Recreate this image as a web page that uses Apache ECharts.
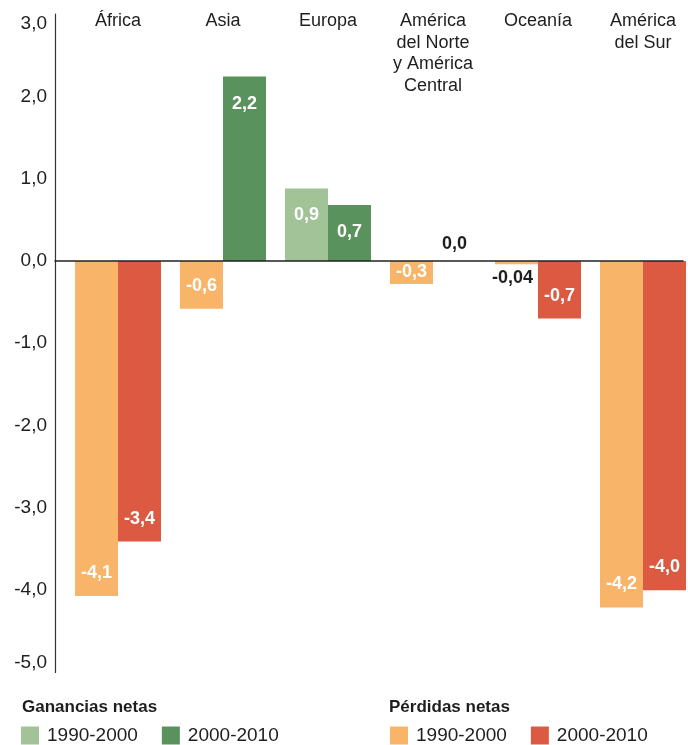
<!DOCTYPE html>
<html>
<head>
<meta charset="utf-8">
<script src="https://cdn.jsdelivr.net/npm/echarts@6/dist/echarts.min.js"></script>
<style>
  html, body { margin: 0; padding: 0; background: #fff; }
  #chart { width: 688px; height: 745px; }
</style>
</head>
<body>
<div id="chart"></div>
<script>
// ---- data ----
const categories = ['África', 'Asia', 'Europa', 'América\ndel Norte\ny América\nCentral', 'Oceanía', 'América\ndel Sur'];
const values1990 = [-4.07, -0.58, 0.88, -0.28, -0.04, -4.21];
const values2000 = [-3.41, 2.24, 0.68, 0.0, -0.70, -4.00];
const labels1990 = ['-4,1', '-0,6', '0,9', '-0,3', '-0,04', '-4,2'];
const labels2000 = ['-3,4', '2,2', '0,7', '0,0', '-0,7', '-4,0'];
const yTickValues = [-5, -4, -3, -2, -1, 0, 1, 2, 3];
const yTickLabels = ['-5,0', '-4,0', '-3,0', '-2,0', '-1,0', '0,0', '1,0', '2,0', '3,0'];
const periods = ['1990-2000', '2000-2010'];
const groupTitles = ['Ganancias netas', 'Pérdidas netas'];

// ---- styles ----
const FONT = "'Liberation Sans', Arial, sans-serif";
const COLORS = {
  gain1990: '#a1c397',
  gain2000: '#5a925d',
  loss1990: '#f8b56a',
  loss2000: '#dc5a42'
};
const TEXT = '#1e1e1e';

function labelFor(v, text) {
  const base = { show: true, formatter: text, fontFamily: FONT, fontSize: 18, fontWeight: 'bold', color: '#fff' };
  if (Math.abs(v) < 0.1) {
    return Object.assign(base, v >= 0
      ? { color: TEXT, position: 'top', distance: 8 }
      : { color: TEXT, position: 'bottom', distance: 5, offset: [-4, 0] });
  }
  if (v > 0) return Object.assign(base, { position: 'insideTop', distance: 18 });
  if (Math.abs(v) < 0.4) return Object.assign(base, { position: 'inside' });
  return Object.assign(base, { position: 'insideBottom', distance: 14 });
}

function buildSeries(values, labels, positive) {
  return values.map((v, i) => {
    const keep = positive ? v >= 0 : v < 0;
    if (!keep) return '-';
    return { value: v, label: labelFor(v, labels[i]) };
  });
}

const seriesDefs = [
  { name: groupTitles[0] + ' ' + periods[0], data: buildSeries(values1990, labels1990, true), stack: 'p1990', color: COLORS.gain1990 },
  { name: groupTitles[0] + ' ' + periods[1], data: buildSeries(values2000, labels2000, true), stack: 'p2000', color: COLORS.gain2000 },
  { name: groupTitles[1] + ' ' + periods[0], data: buildSeries(values1990, labels1990, false), stack: 'p1990', color: COLORS.loss1990 },
  { name: groupTitles[1] + ' ' + periods[1], data: buildSeries(values2000, labels2000, false), stack: 'p2000', color: COLORS.loss2000 }
];

const GRID_TOP = 14, GRID_BOTTOM = 72.5;

const chart = echarts.init(document.getElementById('chart'), null, { renderer: 'canvas' });

const legendCommon = {
  top: 726,
  padding: 0,
  icon: 'rect',
  itemWidth: 18,
  itemHeight: 18,
  itemGap: 24,
  selectedMode: false,
  formatter: name => name.slice(-9),
  textStyle: { fontFamily: FONT, fontSize: 19, color: TEXT, padding: [0, 0, 0, 3] }
};

chart.setOption({
  animation: false,
  backgroundColor: '#fff',
  grid: [
    // category centres sit on the ticks (boundaryGap false): first 118, last 643
    { left: 118, right: 45, top: GRID_TOP, bottom: GRID_BOTTOM },
    { left: 55, right: 5, top: GRID_TOP, bottom: GRID_BOTTOM }
  ],
  xAxis: [
    {
      gridIndex: 0,
      type: 'category',
      data: categories,
      boundaryGap: false,
      position: 'top',
      axisLine: { show: false, onZero: false },
      axisTick: { show: false },
      axisLabel: {
        show: true, interval: 0, margin: 3.5, verticalAlign: 'top',
        fontFamily: FONT, fontSize: 18, lineHeight: 21.5, color: TEXT, align: 'center'
      },
      splitLine: { show: false }
    },
    {
      gridIndex: 1,
      type: 'value',
      min: 0, max: 1,
      axisLine: { show: true, onZero: true, lineStyle: { color: '#222', width: 1.5 } },
      axisTick: { show: false },
      axisLabel: { show: false },
      splitLine: { show: false },
      z: 10
    }
  ],
  yAxis: [
    {
      gridIndex: 0,
      type: 'value', min: -5, max: 3, interval: 1,
      show: false,
      splitLine: { show: false }
    },
    {
      gridIndex: 1,
      type: 'value', min: -5, max: 3, interval: 1,
      axisLine: { show: true, onZero: false, lineStyle: { color: '#333', width: 1.2 } },
      axisTick: { show: false },
      splitLine: { show: false },
      axisLabel: {
        margin: 8,
        fontFamily: FONT, fontSize: 19, color: TEXT,
        formatter: v => yTickLabels[yTickValues.indexOf(v)],
        verticalAlignMaxLabel: 'top',
        verticalAlignMinLabel: 'bottom'
      },
      z: 10
    }
  ],
  legend: [
    Object.assign({}, legendCommon, { left: 21, data: [seriesDefs[0].name, seriesDefs[1].name] }),
    Object.assign({}, legendCommon, { left: 390, data: [seriesDefs[2].name, seriesDefs[3].name] })
  ],
  graphic: [
    { type: 'text', left: 22, top: 699, style: { text: groupTitles[0], font: 'bold 17px ' + FONT, fill: TEXT } },
    { type: 'text', left: 389, top: 699, style: { text: groupTitles[1], font: 'bold 17px ' + FONT, fill: TEXT } }
  ],
  series: seriesDefs.map(s => ({
    type: 'bar',
    name: s.name,
    xAxisIndex: 0,
    yAxisIndex: 0,
    stack: s.stack,
    data: s.data,
    barWidth: 43,
    barGap: '0%',
    clip: false,
    itemStyle: { color: s.color },
    z: 2
  }))
});
</script>
</body>
</html>
